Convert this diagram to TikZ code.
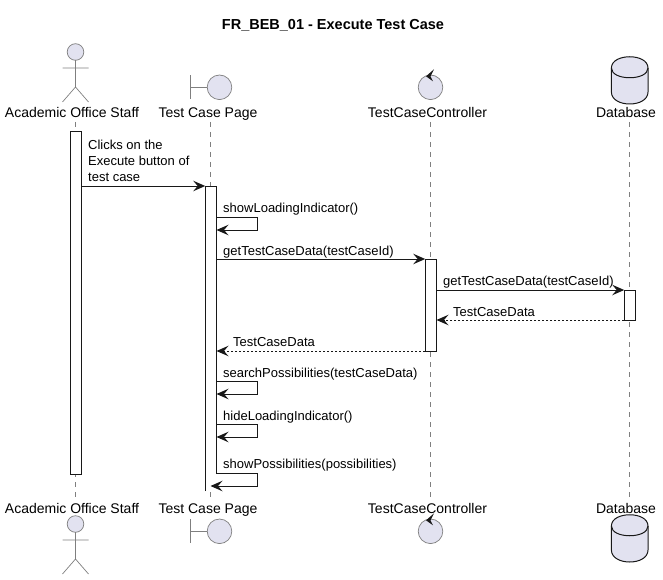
\documentclass[tikz,border=0pt]{standalone}
\usepackage{fontspec}
\setmainfont{Liberation Sans}
\usetikzlibrary{arrows.meta}
\definecolor{partfill}{HTML}{E2E2F0}
\definecolor{partline}{HTML}{7F7F7F}
\definecolor{msgline}{HTML}{181818}
\tikzset{
  x=1pt,y=-1pt,
  lbl/.style={font=\fontsize{14}{16}\selectfont,text=black,inner sep=0pt,anchor=base},
  msglbl/.style={font=\fontsize{13}{16}\selectfont,text=black,inner sep=0pt,anchor=base west,align=left},
  life/.style={draw=partline,line width=0.7pt,dash pattern=on 5pt off 5pt},
  act/.style={draw=msgline,fill=white,line width=1pt,inner sep=0pt,anchor=north west,minimum width=10.3pt},
  iconl/.style={draw=partline,fill=partfill,line width=0.7pt},
  stick/.style={draw=partline,line width=0.7pt},
  msgtip/.style={-{Stealth[length=12pt,width=10.5pt,inset=4.5pt]}},
  msg/.style={draw=msgline,line width=1pt,msgtip},
  ret/.style={draw=msgline,line width=1pt,dash pattern=on 2pt off 2pt,msgtip},
}
\newcommand{\actoricon}[2]{%
  \draw[iconl] (#1,#2+8) circle[radius=8.3];
  \draw[stick] (#1,#2+16) -- (#1,#2+43) (#1-13,#2+24) -- (#1+13,#2+24)
    (#1-13,#2+58) -- (#1,#2+43) -- (#1+13,#2+58);
}
\newcommand{\boundaryicon}[2]{%
  \draw[stick] (#1-20,#2) -- (#1-20,#2+24) (#1-20,#2+12) -- (#1-3,#2+12);
  \draw[iconl] (#1+9,#2+12) circle[radius=12.3];
}
\newcommand{\controlicon}[2]{%
  \draw[iconl] (#1,#2+12) circle[radius=12.3];
  \fill[msgline] (#1+3.5,#2-6) -- (#1-4.5,#2+1) -- (#1+2.5,#2+6) -- (#1,#2+1) -- cycle;
}
\newcommand{\dbicon}[2]{%
  \draw[draw=msgline,fill=partfill,line width=1pt] (#1-18.3,#2+11) .. controls (#1-18.3,#2-4) and (#1+18.3,#2-4) .. (#1+18.3,#2+11)
    -- (#1+18.3,#2+35) .. controls (#1+18.3,#2+51) and (#1-18.3,#2+51) .. (#1-18.3,#2+35) -- cycle;
  \draw[draw=msgline,line width=1pt] (#1-18.3,#2+11) .. controls (#1-18.3,#2+24) and (#1+18.3,#2+24) .. (#1+18.3,#2+11);
}
\begin{document}
\begin{tikzpicture}
\useasboundingbox (0,0) rectangle (663,580);
\node[font=\bfseries\fontsize{14.5}{16}\selectfont,inner sep=0pt] (title) at (333,25) {FR\_BEB\_01 - Execute Test Case};
% participants
\node[lbl] (a1) at (72,118) {Academic Office Staff};
\node[lbl] (b1) at (208,118) {Test Case Page};
\node[lbl] (c1) at (427.5,118) {TestCaseController};
\node[lbl] (d1) at (626,118) {Database};
\node[lbl] (a2) at (72,513) {Academic Office Staff};
\node[lbl] (b2) at (208,513) {Test Case Page};
\node[lbl] (c2) at (427.5,513) {TestCaseController};
\node[lbl] (d2) at (626,513) {Database};
\coordinate (la1) at (75.5,122); \coordinate (la2) at (75.5,498);
\coordinate (lb1) at (210.5,122); \coordinate (lb2) at (210.5,498);
\coordinate (lc1) at (430.5,122); \coordinate (lc2) at (430.5,498);
\coordinate (ld1) at (629.5,122); \coordinate (ld2) at (629.5,498);
\draw[life] (la1) -- (la2);
\draw[life] (lb1) -- (lb2);
\draw[life] (lc1) -- (lc2);
\draw[life] (ld1) -- (ld2);
% icons
\actoricon{75.5}{44}
\boundaryicon{210.5}{75.3}
\controlicon{430.5}{75.3}
\dbicon{629.7}{57}
\actoricon{75.5}{516}
\boundaryicon{210.5}{519.3}
\controlicon{430.5}{519.3}
\dbicon{629.7}{515}
% activations
\node[act,minimum height=343pt] (acta) at (70.2,131) {};
\node[act,draw=none,minimum height=304pt] (actb) at (205.2,186) {};
\draw[draw=msgline,line width=1pt] (actb.south west) -- (actb.north west) -- (actb.north east) -- ([yshift=17pt]actb.south east);
\node[act,minimum height=92pt] (actc) at (425.2,259) {};
\node[act,minimum height=30pt] (actd) at (624.2,290) {};
% messages
\node[msglbl] (m1) at (88,181) {Clicks on the\\Execute button of\\test case};
\draw[msg] (acta.east |- 0,186) -- (actb.west |- 0,186);
\node[msglbl] (m2) at (223,212) {showLoadingIndicator()};
\draw[msg] (actb.east |- 0,217) -- (257.7,217) -- (257.7,230) -- (actb.east |- 0,230);
\node[msglbl] (m3) at (223,255) {getTestCaseData(testCaseId)};
\draw[msg] (actb.east |- 0,259) -- (actc.west |- 0,259);
\node[msglbl] (m4) at (443,285.5) {getTestCaseData(testCaseId)};
\draw[msg] (actc.east |- 0,290) -- (actd.west |- 0,290);
\node[msglbl] (m5) at (453,316) {TestCaseData};
\draw[ret] (actd.west |- 0,320) -- (actc.east |- 0,320);
\node[msglbl] (m6) at (233,346.5) {TestCaseData};
\draw[ret] (actc.west |- 0,351) -- (actb.east |- 0,351);
\node[msglbl] (m7) at (223,377) {searchPossibilities(testCaseData)};
\draw[msg] (actb.east |- 0,381.5) -- (257.7,381.5) -- (257.7,394) -- (actb.east |- 0,394);
\node[msglbl] (m8) at (223,420) {hideLoadingIndicator()};
\draw[msg] (actb.east |- 0,424.5) -- (257.7,424.5) -- (257.7,437) -- (actb.east |- 0,437);
\node[msglbl] (m9) at (223,468) {showPossibilities(possibilities)};
\draw[msg] (actb.east |- 0,473) -- (257.7,473) -- (257.7,486) -- (lb2 |- 0,486);
\end{tikzpicture}
\end{document}
